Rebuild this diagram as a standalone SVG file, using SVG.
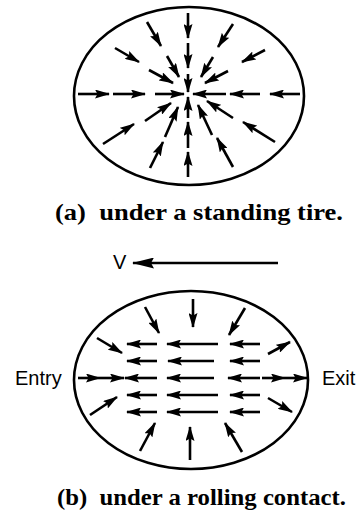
<svg xmlns="http://www.w3.org/2000/svg" width="360" height="521" viewBox="0 0 360 521">
<defs>
<style>
.ell{fill:none;stroke:#000;stroke-width:2.6}
.ar line{stroke:#000;stroke-width:2.6;marker-end:url(#ah)}
.cap{font-family:"Liberation Serif","Times New Roman",serif;font-weight:bold;font-size:23px;fill:#000}
.lab{font-family:"Liberation Sans",Arial,sans-serif;font-size:20px;fill:#000}
</style>
<marker id="ah" viewBox="0 0 15 9" refX="14" refY="4.5" markerWidth="15" markerHeight="9" markerUnits="userSpaceOnUse" orient="auto">
<path d="M0,0 L15,4.5 L0,9 L2.5,4.5 z" fill="#000"/>
</marker>
<marker id="ahv" viewBox="0 0 22 11" refX="21" refY="5.5" markerWidth="22" markerHeight="11" markerUnits="userSpaceOnUse" orient="auto">
<path d="M0,0 L22,5.5 L0,11 L3,5.5 z" fill="#000"/>
</marker>
</defs>
<rect width="360" height="521" fill="#fff"/>

<g id="standing-tire">
<ellipse class="ell" cx="189" cy="96" rx="115" ry="89"/>
</g>

<g id="standing-arrows" class="ar">
<line x1="78" y1="94" x2="109" y2="94"/>
<line x1="113" y1="94" x2="145" y2="94"/>
<line x1="155" y1="94" x2="184" y2="94"/>
<line x1="226" y1="94" x2="193" y2="94"/>
<line x1="260" y1="94" x2="230" y2="94"/>
<line x1="300" y1="94" x2="270" y2="94"/>
<line x1="188" y1="13" x2="188" y2="38"/>
<line x1="188" y1="43" x2="188" y2="68"/>
<line x1="188" y1="74" x2="188" y2="92"/>
<line x1="188" y1="118" x2="188" y2="97"/>
<line x1="188" y1="148" x2="188" y2="122"/>
<line x1="188" y1="177" x2="188" y2="152"/>
<line x1="147" y1="22" x2="161" y2="46"/>
<line x1="167" y1="56" x2="179" y2="77"/>
<line x1="115" y1="48" x2="139" y2="62"/>
<line x1="149" y1="70" x2="173" y2="83"/>
<line x1="233" y1="24" x2="218" y2="47"/>
<line x1="213" y1="57" x2="201" y2="77"/>
<line x1="265" y1="50" x2="242" y2="62"/>
<line x1="228" y1="71" x2="205" y2="83"/>
<line x1="103" y1="144" x2="134" y2="124"/>
<line x1="145" y1="121" x2="171" y2="103"/>
<line x1="150" y1="168" x2="163" y2="142"/>
<line x1="165" y1="137" x2="178" y2="107"/>
<line x1="275" y1="142" x2="243" y2="122"/>
<line x1="233" y1="118" x2="207" y2="101"/>
<line x1="233" y1="167" x2="217" y2="138"/>
<line x1="212" y1="135" x2="198" y2="105"/>
</g>

<text id="caption-a" class="cap" x="55" y="220" textLength="288" lengthAdjust="spacingAndGlyphs" xml:space="preserve">(a)  under a standing tire.</text>

<g id="velocity">
<text class="lab" x="113" y="269" font-size="17">V</text>
<line x1="278" y1="263" x2="133" y2="263" stroke="#000" stroke-width="2.6" marker-end="url(#ahv)"/>
</g>

<g id="rolling-tire">
<ellipse class="ell" cx="191" cy="380" rx="117" ry="89"/>
</g>

<g id="rolling-arrows" class="ar">
<line x1="157" y1="344" x2="127" y2="344"/>
<line x1="218" y1="344" x2="167" y2="344"/>
<line x1="260" y1="344" x2="230" y2="344"/>
<line x1="157" y1="361" x2="127" y2="361"/>
<line x1="214" y1="361" x2="168" y2="361"/>
<line x1="260" y1="361" x2="230" y2="361"/>
<line x1="157" y1="378" x2="125" y2="378"/>
<line x1="214" y1="378" x2="167" y2="378"/>
<line x1="260" y1="378" x2="228" y2="378"/>
<line x1="157" y1="395" x2="127" y2="395"/>
<line x1="218" y1="395" x2="167" y2="395"/>
<line x1="260" y1="395" x2="230" y2="395"/>
<line x1="157" y1="412" x2="127" y2="412"/>
<line x1="218" y1="412" x2="167" y2="412"/>
<line x1="260" y1="412" x2="230" y2="412"/>
<line x1="78" y1="378" x2="100" y2="378"/>
<line x1="100" y1="378" x2="124" y2="378"/>
<line x1="262" y1="378" x2="285" y2="378"/>
<line x1="285" y1="378" x2="307" y2="378"/>
<line x1="193" y1="299" x2="193" y2="327"/>
<line x1="145" y1="307" x2="159" y2="333"/>
<line x1="245" y1="308" x2="229" y2="335"/>
<line x1="97" y1="338" x2="122" y2="353"/>
<line x1="268" y1="354" x2="290" y2="342"/>
<line x1="90" y1="415" x2="117" y2="397"/>
<line x1="268" y1="398" x2="292" y2="412"/>
<line x1="140" y1="451" x2="155" y2="423"/>
<line x1="190" y1="460" x2="190" y2="427"/>
<line x1="242" y1="452" x2="225" y2="423"/>
</g>

<text id="entry" class="lab" x="15" y="385">Entry</text>
<text id="exit" class="lab" x="322" y="385">Exit</text>

<text id="caption-b" class="cap" x="57" y="505" textLength="289" lengthAdjust="spacingAndGlyphs" xml:space="preserve">(b)  under a rolling contact.</text>
</svg>
